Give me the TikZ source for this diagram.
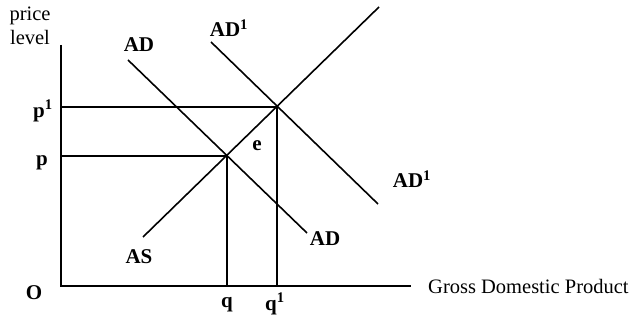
\documentclass[tikz,border=0pt]{standalone}
\usepackage{fontspec}
\setmainfont{Liberation Serif}
\usepackage{tikz}
\usetikzlibrary{positioning, calc}

\tikzset{
  curve/.style={line width=1.6pt},
  axis/.style={line width=1.8pt},
  guide/.style={line width=1.3pt},
  lbl/.style={inner sep=0pt, font=\fontsize{21}{23}\selectfont\bfseries},
  axlbl/.style={inner sep=0pt, font=\fontsize{20.5}{22}\selectfont}
}

\begin{document}
\begin{tikzpicture}[x=1pt, y=-1pt]
    \useasboundingbox (0,0) rectangle (634,320);

    % axes
    \coordinate (ytop) at (61,45);
    \coordinate (O) at (61,286);
    \coordinate (xend) at (411,286);
    \draw[axis] (ytop) -- (O) -- (xend);

    % equilibrium points and their feet on the axes
    \coordinate (e) at (227,156);
    \coordinate (e1) at (277,107);
    \coordinate (pax) at (61,156);
    \coordinate (p1ax) at (61,107);
    \coordinate (qax) at (227,286);
    \coordinate (q1ax) at (277,286);
    \draw[guide] (pax) -- (e) -- (qax);
    \draw[guide] (p1ax) -- (e1) -- (q1ax);

    % supply and demand curves
    \coordinate (AS-lo) at (143,237);
    \coordinate (AS-hi) at (379,7);
    \coordinate (AD-hi) at (128,60);
    \coordinate (AD-lo) at (307,233);
    \coordinate (AD1-hi) at (211,42);
    \coordinate (AD1-lo) at (378,204);
    \draw[curve] (AS-lo) -- (AS-hi);
    \draw[curve] (AD-hi) -- (AD-lo);
    \draw[curve] (AD1-hi) -- (AD1-lo);

    % labels
    \node[axlbl] (price) at (30,16) {price};
    \node[axlbl] (level) at (30,37) {level};
    \node[axlbl, anchor=west] (gdp) at (428,286) {Gross Domestic Product};
    \node[lbl] (Olbl) at (34,293) {O};
    \node[lbl] (plbl) at (42,163) {p};
    \node[lbl] (p1lbl) at (43,111) {p\textsuperscript{1}};
    \node[lbl] (qlbl) at (227,305) {q};
    \node[lbl] (q1lbl) at (275,304) {q\textsuperscript{1}};
    \node[lbl] (elbl) at (257,146) {e};
    \node[lbl] (ADtop) at (139,45) {AD};
    \node[lbl] (AD1top) at (229,28) {AD\textsuperscript{1}};
    \node[lbl] (ADbot) at (325,239) {AD};
    \node[lbl] (AD1bot) at (412,179) {AD\textsuperscript{1}};
    \node[lbl] (ASlbl) at (139,257) {AS};
\end{tikzpicture}
\end{document}
